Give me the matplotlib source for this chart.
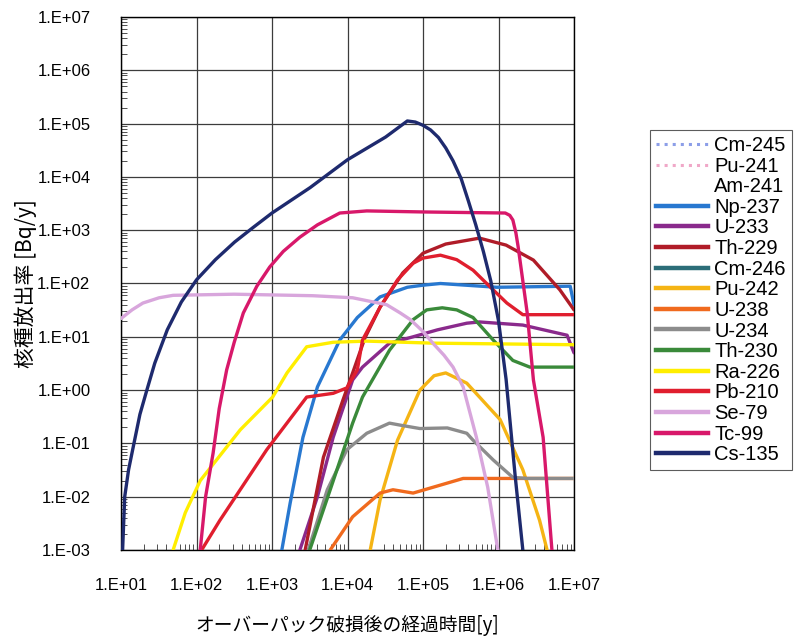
import numpy as np
import matplotlib
matplotlib.use("Agg")
import matplotlib.pyplot as plt
from matplotlib.ticker import LogLocator, FuncFormatter, NullFormatter
from matplotlib.lines import Line2D

plt.rcParams['font.family'] = ['Liberation Sans', 'Noto Sans CJK JP', 'DejaVu Sans']

# ---- data (time [y], release rate [Bq/y]) ----
t_np237 = [1350, 1740, 2570, 4000, 7900, 1.35e4, 2.7e4, 6.2e4, 1.0e5, 1.7e5, 9.5e5, 8.9e6, 1.0e7]
r_np237 = [1e-3, 7.6e-3, 0.13, 1.15, 8.7, 23, 56, 85, 93, 100, 85, 89, 40]

t_u233 = [2340, 4000, 6460, 1.17e4, 1.58e4, 3.6e4, 7.4e4, 1.55e5, 3.8e5, 5.6e5, 2.1e6, 8.1e6, 1.0e7]
r_u233 = [1e-3, 0.01, 0.13, 1.55, 2.7, 7.6, 10, 13.5, 18, 19, 16.6, 10.7, 5]

t_th229 = [2750, 4800, 8700, 1.17e4, 1.7e4, 2.7e4, 5.4e4, 1.0e5, 2.0e5, 5.6e5, 1.26e6, 2.9e6, 6.5e6, 1.0e7]
r_th229 = [1e-3, 0.055, 0.65, 2.1, 9.5, 36, 158, 370, 550, 710, 525, 275, 76, 32]

t_pu242 = [2.0e4, 2.7e4, 4.6e4, 9.1e4, 1.4e5, 2.0e5, 3.8e5, 1.05e6, 2.1e6, 3.5e6, 4.4e6]
r_pu242 = [1e-3, 8.7e-3, 0.115, 1.0, 1.86, 2.1, 1.35, 0.28, 0.032, 3.6e-3, 1e-3]

t_u238 = [5900, 1.17e4, 2.7e4, 4.0e4, 7.4e4, 1.35e5, 3.4e5, 1.55e6, 1.0e7]
r_u238 = [1e-3, 4.2e-3, 0.0117, 0.0135, 0.0117, 0.015, 0.022, 0.022, 0.022]

t_u234 = [3020, 5400, 9800, 1.8e4, 3.6e4, 5.0e4, 9.1e4, 2.1e5, 3.8e5, 4.6e5, 8.5e5, 1.55e6, 2.4e6, 1.0e7]
r_u234 = [1e-3, 0.0135, 0.076, 0.155, 0.24, 0.22, 0.19, 0.195, 0.155, 0.115, 0.049, 0.023, 0.022, 0.022]

t_th230 = [3160, 5900, 1.17e4, 1.58e4, 3.6e4, 7.4e4, 1.12e5, 1.8e5, 2.8e5, 4.6e5, 8.5e5, 1.55e6, 2.6e6, 1.0e7]
r_th230 = [1e-3, 0.0135, 0.24, 0.74, 5.6, 21, 32, 35, 32, 23, 8.7, 3.6, 2.7, 2.7]

t_ra226 = [49, 71, 112, 380, 1020, 1580, 2880, 6460, 1.8e4, 1.35e5, 1.0e7]
r_ra226 = [1e-3, 5e-3, 0.02, 0.18, 0.74, 2.1, 6.5, 7.9, 8.3, 7.6, 7.1]

t_pb210 = [117, 204, 851, 2880, 6460, 9800, 1.35e4, 1.58e4, 2.7e4, 4.6e4, 7.4e4, 1.0e5, 1.7e5,
           2.8e5, 4.6e5, 8.5e5, 1.29e6, 2.1e6, 1.0e7]
r_pb210 = [1e-3, 3.6e-3, 0.076, 0.74, 0.87, 1.1, 2.4, 8.7, 36, 117, 240, 300, 340,
           280, 178, 76, 43, 26, 26]

t_se79 = [10, 14, 19.5, 32, 49, 316, 3470, 1.17e4, 3.3e4, 5.0e4, 6.8e4, 1.0e5, 1.35e5, 1.9e5,
          2.5e5, 3.4e5, 5.1e5, 7.2e5, 9.8e5]
r_se79 = [22, 32, 43, 54, 60, 63, 59, 54, 40, 28, 21, 12.6, 7.6, 4.5,
          2.7, 1.15, 0.13, 0.015, 1e-3]

t_tc99 = [112, 132, 166, 200, 251, 316, 417, 630, 933, 1410, 2340, 4000, 7900, 1.8e4, 1.0e5,
          1.23e6, 1.41e6, 1.55e6, 1.7e6, 1.82e6, 2.4e6, 2.9e6, 3.9e6, 5.1e6]
r_tc99 = [1e-3, 0.01, 0.066, 0.45, 2.4, 7.9, 28, 89, 204, 400, 740, 1260, 2100, 2300, 2200,
          2100, 1900, 1550, 890, 490, 28, 1.55, 0.13, 1e-3]

t_cs135 = [10.5, 11.2, 12.6, 14.5, 17.8, 22, 28, 41, 63, 100, 178, 320, 560, 1000, 3200, 1.0e4,
           3.2e4, 6.2e4, 7.9e4, 1.0e5, 1.26e5, 1.6e5, 2.0e5, 2.5e5, 3.2e5, 4.0e5, 5.0e5, 6.3e5,
           7.9e5, 1.0e6, 1.26e6, 1.66e6, 2.1e6]
r_cs135 = [1e-3, 1e-2, 0.032, 0.085, 0.35, 1.0, 3.2, 13.5, 45, 117, 280, 600, 1120, 2100, 6300, 2.1e4,
           5.6e4, 1.12e5, 1.07e5, 9.3e4, 7.6e4, 5.5e4, 3.5e4, 2.0e4, 9.3e3, 3.5e3, 1.26e3, 400,
           112, 20, 1.6, 0.025, 1e-3]

nuclides = ["Cm-245", "Pu-241", "Am-241", "Np-237", "U-233", "Th-229", "Cm-246", "Pu-242",
            "U-238", "U-234", "Th-230", "Ra-226", "Pb-210", "Se-79", "Tc-99", "Cs-135"]

series = {
    "Np-237": (t_np237, r_np237),
    "U-233": (t_u233, r_u233),
    "Th-229": (t_th229, r_th229),
    "Pu-242": (t_pu242, r_pu242),
    "U-238": (t_u238, r_u238),
    "U-234": (t_u234, r_u234),
    "Th-230": (t_th230, r_th230),
    "Ra-226": (t_ra226, r_ra226),
    "Pb-210": (t_pb210, r_pb210),
    "Se-79": (t_se79, r_se79),
    "Tc-99": (t_tc99, r_tc99),
    "Cs-135": (t_cs135, r_cs135),
}

colors = {
    "Cm-245": "#8c9ee8", "Pu-241": "#f0a8c8", "Am-241": "white", "Np-237": "#2878d0",
    "U-233": "#8a2a8c", "Th-229": "#b01c28", "Cm-246": "#2c6e78", "Pu-242": "#f5b414",
    "U-238": "#f06a1e", "U-234": "#8c8c8c", "Th-230": "#3a8a3a", "Ra-226": "#ffee00",
    "Pb-210": "#e01e2e", "Se-79": "#d8a6dc", "Tc-99": "#d8186a", "Cs-135": "#1e2a6e",
}
dotted = {"Cm-245", "Pu-241"}

fig = plt.figure(figsize=(7.95, 6.42), dpi=100)
ax = fig.add_axes([121 / 795, 1 - 550 / 642, (574 - 121) / 795, (550 - 17) / 642])

for name in nuclides:
    if name in series:
        t, r = series[name]
        ax.plot(t, r, color=colors[name], lw=2.4, solid_joinstyle="round",
                solid_capstyle="round", zorder=3)

ax.set_xscale("log")
ax.set_yscale("log")
ax.set_xlim(1e1, 1e7)
ax.set_ylim(1e-3, 1e7)

ax.xaxis.set_major_locator(LogLocator(base=10, numticks=20))
ax.yaxis.set_major_locator(LogLocator(base=10, numticks=20))
ax.xaxis.set_minor_locator(LogLocator(base=10, subs=np.arange(2, 10), numticks=20))
ax.yaxis.set_minor_locator(LogLocator(base=10, subs=np.arange(2, 10), numticks=20))
fmt = FuncFormatter(lambda v, pos: "1.E{:+03d}".format(int(round(np.log10(v)))))
ax.xaxis.set_major_formatter(fmt)
ax.yaxis.set_major_formatter(fmt)
ax.xaxis.set_minor_formatter(NullFormatter())
ax.yaxis.set_minor_formatter(NullFormatter())
ax.tick_params(which="major", direction="in", length=0, labelsize=12)
ax.tick_params(axis="y", which="major", pad=22)
ax.tick_params(axis="x", which="major", pad=20)
ax.tick_params(which="minor", direction="in", length=4, width=0.6, color="#333333")
ax.grid(True, which="major", color="#3c3c3c", lw=0.9, zorder=1)
for s in ax.spines.values():
    s.set_color("black")
    s.set_linewidth(1.0)

ax.set_xlabel("オーバーパック破損後の経過時間[y]", fontsize=13.5,
              family=["Noto Sans CJK JP", "DejaVu Sans"], labelpad=16)
ax.set_ylabel("核種放出率 [Bq/y]", fontsize=15,
              family=["Noto Sans CJK JP", "DejaVu Sans"], labelpad=0)

handles = []
for name in nuclides:
    ls = ":" if name in dotted else "-"
    handles.append(Line2D([], [], color=colors[name], lw=3.2 if ls == "-" else 2.2, ls=ls))
leg = fig.legend(handles, nuclides, loc="upper left", bbox_to_anchor=(650 / 795, 1 - 130 / 642),
                 fontsize=14.5, frameon=True, fancybox=False, edgecolor="#333333",
                 handlelength=2.6, handletextpad=0.3, labelspacing=0.08,
                 borderpad=0.3, borderaxespad=0)
leg.get_frame().set_linewidth(0.8)

fig.savefig("out.png", dpi=100, facecolor="white")
